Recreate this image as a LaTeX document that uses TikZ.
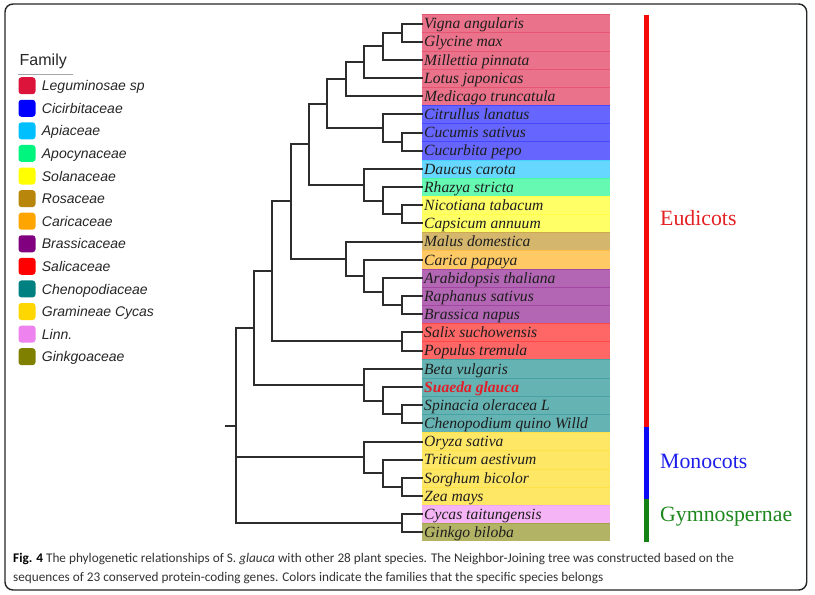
\documentclass[tikz,border=0pt]{standalone}
\usepackage{fontspec}
\setmainfont{Liberation Serif}
\newfontfamily\arialf{Liberation Sans}
\newfontfamily\capf{Carlito}

\definecolor{cLeg}{RGB}{220,20,60}
\definecolor{cCuc}{RGB}{0,0,255}
\definecolor{cApi}{RGB}{0,191,255}
\definecolor{cApo}{RGB}{0,245,127}
\definecolor{cSol}{RGB}{255,255,0}
\definecolor{cRos}{RGB}{184,134,11}
\definecolor{cCar}{RGB}{255,165,0}
\definecolor{cBra}{RGB}{128,0,128}
\definecolor{cSal}{RGB}{255,0,0}
\definecolor{cChe}{RGB}{0,128,128}
\definecolor{cGra}{RGB}{255,215,0}
\definecolor{cLin}{RGB}{238,130,238}
\definecolor{cGin}{RGB}{128,128,0}
\definecolor{branchc}{RGB}{45,45,45}
\definecolor{spc}{RGB}{30,30,30}
\definecolor{suaedac}{RGB}{225,30,40}
\definecolor{eudc}{RGB}{228,32,36}
\definecolor{monc}{RGB}{30,30,235}
\definecolor{gymc}{RGB}{30,135,30}
\definecolor{barred}{RGB}{245,10,10}
\definecolor{barblue}{RGB}{10,10,245}
\definecolor{bargreen}{RGB}{20,130,20}

\tikzset{
  branch/.style={draw=branchc, line width=1.8pt, line cap=rect},
  sptext/.style={anchor=base west, inner sep=0pt, text=spc, font=\fontsize{15.6}{18}\selectfont\itshape},
  swatch/.style={minimum size=17pt, inner sep=0pt, rounded corners=3pt},
  legtext/.style={anchor=base west, inner sep=0pt, text=black!85, font=\arialf\fontsize{14}{16}\selectfont\itshape},
  cladetext/.style={anchor=base west, inner sep=0pt, font=\fontsize{21.8}{24}\selectfont},
  captext/.style={anchor=base west, inner sep=0pt, text=black!80, font=\capf\fontsize{13.25}{15}\selectfont},
}

\begin{document}
\begin{tikzpicture}[x=1pt,y=-1pt]
\useasboundingbox (0,0) rectangle (815,595);
\fill[white] (0,0) rectangle (815,595);

% frame
\draw[rounded corners=8pt, line width=1.4pt, black!85] (5,4) rectangle (806.7,590);

% coloured rows, leaf ends and species names
\foreach \i/\yy/\col/\name in {
  0/24/cLeg/Vigna angularis, 1/42/cLeg/Glycine max, 2/60/cLeg/Millettia pinnata,
  3/78/cLeg/Lotus japonicas, 4/96/cLeg/Medicago truncatula,
  5/114/cCuc/Citrullus lanatus, 6/133/cCuc/Cucumis sativus, 7/151/cCuc/Cucurbita pepo,
  8/169/cApi/Daucus carota, 9/187/cApo/Rhazya stricta,
  10/205/cSol/Nicotiana tabacum, 11/223/cSol/Capsicum annuum,
  12/242/cRos/Malus domestica, 13/260/cCar/Carica papaya,
  14/278/cBra/Arabidopsis thaliana, 15/296/cBra/Raphanus sativus, 16/314/cBra/Brassica napus,
  17/332/cSal/Salix suchowensis, 18/351/cSal/Populus tremula,
  19/369/cChe/Beta vulgaris, 20/387/cChe/{\textcolor{suaedac}{\bfseries Suaeda glauca}},
  21/405/cChe/Spinacia oleracea L, 22/423/cChe/Chenopodium quino Willd,
  23/442/cGra/Oryza sativa, 24/460/cGra/Triticum aestivum, 25/478/cGra/Sorghum bicolor,
  26/496/cGra/Zea mays, 27/514/cLin/Cycas taitungensis, 28/532/cGin/Ginkgo biloba}{
  \fill[\col!60!white] (421.7,{14.5+18.17*\i}) rectangle (610,{14.5+18.17*(\i+1)});
  \draw[\col!72!white, line width=0.5pt] (421.7,{14.5+18.17*\i}) -- (610,{14.5+18.17*\i});
  \coordinate (l\i) at (422,\yy);
  \node[sptext] (t\i) at (424,{28.8+18.17*\i}) {\name};
}

% internal nodes of the tree
\coordinate (A)  at (402,33);
\coordinate (B)  at (383,46);
\coordinate (C)  at (364,62);
\coordinate (D)  at (346,79);
\coordinate (E)  at (402,142);
\coordinate (F)  at (383,128);
\coordinate (G)  at (327,104);
\coordinate (H)  at (402,214);
\coordinate (I)  at (383,201);
\coordinate (J)  at (364,185);
\coordinate (K)  at (309,144);
\coordinate (M1) at (402,305);
\coordinate (M2) at (383,292);
\coordinate (M3) at (364,276);
\coordinate (M4) at (346,259);
\coordinate (N)  at (291,201);
\coordinate (S)  at (402,341);
\coordinate (O)  at (272,271);
\coordinate (Q1) at (402,414);
\coordinate (Q2) at (383,401);
\coordinate (Q3) at (364,385);
\coordinate (P)  at (254,328);
\coordinate (R1) at (402,487);
\coordinate (R2) at (383,473);
\coordinate (R3) at (364,457);
\coordinate (T)  at (402,523);
\coordinate (root) at (236,426);
\coordinate (stub) at (226,426);

\path[branch]
  (A) |- (l0)  (A) |- (l1)
  (B) |- (A)   (B) |- (l2)
  (C) |- (B)   (C) |- (l3)
  (D) |- (C)   (D) |- (l4)
  (E) |- (l6)  (E) |- (l7)
  (F) |- (l5)  (F) |- (E)
  (G) |- (D)   (G) |- (F)
  (H) |- (l10) (H) |- (l11)
  (I) |- (l9)  (I) |- (H)
  (J) |- (l8)  (J) |- (I)
  (K) |- (G)   (K) |- (J)
  (M1) |- (l15) (M1) |- (l16)
  (M2) |- (l14) (M2) |- (M1)
  (M3) |- (l13) (M3) |- (M2)
  (M4) |- (l12) (M4) |- (M3)
  (N) |- (K)   (N) |- (M4)
  (S) |- (l17) (S) |- (l18)
  (O) |- (N)   (O) |- (S)
  (Q1) |- (l21) (Q1) |- (l22)
  (Q2) |- (l20) (Q2) |- (Q1)
  (Q3) |- (l19) (Q3) |- (Q2)
  (P) |- (O)   (P) |- (Q3)
  (R1) |- (l25) (R1) |- (l26)
  (R2) |- (l24) (R2) |- (R1)
  (R3) |- (l23) (R3) |- (R2)
  (T) |- (l27) (T) |- (l28)
  (root) |- (P) (root) |- (R3) (root) |- (T)
  (stub) -- (root);

% clade bars and labels
\coordinate (b0) at (646.7,14.7);
\coordinate (b1) at (646.7,427.3);
\coordinate (b2) at (646.7,499.0);
\coordinate (b3) at (646.7,541.6);
\draw[barred, line width=4.7pt] (b0) -- (b1);
\draw[barblue, line width=4.7pt] (b1) -- (b2);
\draw[bargreen, line width=4.7pt] (b2) -- (b3);
\node[cladetext, text=eudc] (eud) at (660,225.5) {Eudicots};
\node[cladetext, text=monc] (mon) at (660,468) {Monocots};
\node[cladetext, text=gymc] (gym) at (660,521) {Gymnospernae};

% legend
\node[anchor=base west, inner sep=0pt, text=black!85, font=\arialf\fontsize{16}{18}\selectfont] (fam) at (19.5,65.5) {Family};
\coordinate (u0) at (17.7,74.3);
\coordinate (u1) at (73.3,74.3);
\draw[black!35, line width=1pt] (u0) -- (u1);
\foreach \i/\col/\txt in {
  0/cLeg/Leguminosae sp, 1/cCuc/Cicirbitaceae, 2/cApi/Apiaceae,
  3/cApo/Apocynaceae, 4/cSol/Solanaceae, 5/cRos/Rosaceae,
  6/cCar/Caricaceae, 7/cBra/Brassicaceae, 8/cSal/Salicaceae,
  9/cChe/Chenopodiaceae, 10/cGra/Gramineae Cycas, 11/cLin/Linn.,
  12/cGin/Ginkgoaceae}{
  \node[swatch, fill=\col] (sw\i) at (27,{85.7+22.58*\i}) {};
  \node[legtext] (lg\i) at (41.7,{90.8+22.58*\i}) {\txt};
}

% caption
\node[captext] (cap1) at (13,562.3) {{\bfseries\color{black} Fig. 4} The phylogenetic relationships of S. \textit{glauca} with other 28 plant species. The Neighbor-Joining tree was constructed based on the};
\node[captext] (cap2) at (13,581) {sequences of 23 conserved protein-coding genes. Colors indicate the families that the specific species belongs};
\end{tikzpicture}
\end{document}
